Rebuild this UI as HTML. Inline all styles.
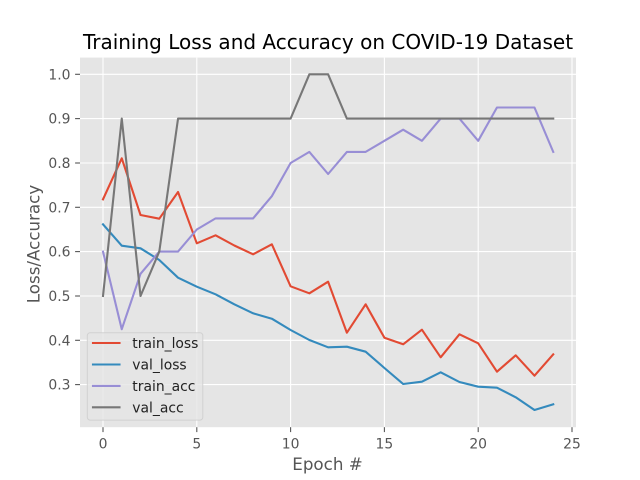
<!DOCTYPE html>
<html>
<head>
<meta charset="utf-8">
<style>
  html, body { margin: 0; padding: 0; background: #ffffff; }
  svg { display: block; }
  text { font-family: "DejaVu Sans", "Liberation Sans", sans-serif; }
</style>
</head>
<body>
<svg width="640" height="480" viewBox="0 0 640 480" xmlns="http://www.w3.org/2000/svg">
  <rect x="0" y="0" width="640" height="480" fill="#ffffff"/>
  <!-- axes background -->
  <rect x="80" y="57.6" width="496" height="369.6" fill="#E5E5E5"/>
  <!-- grid -->
  <g stroke="#ffffff" stroke-width="1.1" fill="none">
    <line x1="103.0" y1="57.6" x2="103.0" y2="427.2"/>
    <line x1="196.8" y1="57.6" x2="196.8" y2="427.2"/>
    <line x1="290.6" y1="57.6" x2="290.6" y2="427.2"/>
    <line x1="384.4" y1="57.6" x2="384.4" y2="427.2"/>
    <line x1="478.2" y1="57.6" x2="478.2" y2="427.2"/>
    <line x1="572.0" y1="57.6" x2="572.0" y2="427.2"/>
    <line x1="80" y1="74.3" x2="576" y2="74.3"/>
    <line x1="80" y1="118.6" x2="576" y2="118.6"/>
    <line x1="80" y1="163.0" x2="576" y2="163.0"/>
    <line x1="80" y1="207.3" x2="576" y2="207.3"/>
    <line x1="80" y1="251.6" x2="576" y2="251.6"/>
    <line x1="80" y1="296.0" x2="576" y2="296.0"/>
    <line x1="80" y1="340.3" x2="576" y2="340.3"/>
    <line x1="80" y1="384.6" x2="576" y2="384.6"/>
  </g>
  <!-- ticks -->
  <g stroke="#555555" stroke-width="1.1">
    <line x1="103.0" y1="427.2" x2="103.0" y2="432.1"/>
    <line x1="196.8" y1="427.2" x2="196.8" y2="432.1"/>
    <line x1="290.6" y1="427.2" x2="290.6" y2="432.1"/>
    <line x1="384.4" y1="427.2" x2="384.4" y2="432.1"/>
    <line x1="478.2" y1="427.2" x2="478.2" y2="432.1"/>
    <line x1="572.0" y1="427.2" x2="572.0" y2="432.1"/>
    <line x1="75.1" y1="74.3" x2="80" y2="74.3"/>
    <line x1="75.1" y1="118.6" x2="80" y2="118.6"/>
    <line x1="75.1" y1="163.0" x2="80" y2="163.0"/>
    <line x1="75.1" y1="207.3" x2="80" y2="207.3"/>
    <line x1="75.1" y1="251.6" x2="80" y2="251.6"/>
    <line x1="75.1" y1="296.0" x2="80" y2="296.0"/>
    <line x1="75.1" y1="340.3" x2="80" y2="340.3"/>
    <line x1="75.1" y1="384.6" x2="80" y2="384.6"/>
  </g>
  <!-- tick labels -->
  <g fill="#555555" font-size="13.9px">
    <g text-anchor="middle">
      <text x="103.0" y="448.5">0</text>
      <text x="196.8" y="448.5">5</text>
      <text x="290.6" y="448.5">10</text>
      <text x="384.4" y="448.5">15</text>
      <text x="478.2" y="448.5">20</text>
      <text x="572.0" y="448.5">25</text>
    </g>
    <g text-anchor="end">
      <text x="70.5" y="79.4">1.0</text>
      <text x="70.5" y="123.7">0.9</text>
      <text x="70.5" y="168.1">0.8</text>
      <text x="70.5" y="212.4">0.7</text>
      <text x="70.5" y="256.7">0.6</text>
      <text x="70.5" y="301.1">0.5</text>
      <text x="70.5" y="345.4">0.4</text>
      <text x="70.5" y="389.7">0.3</text>
    </g>
  </g>
  <!-- series -->
  <g fill="none" stroke-width="2.1" stroke-linejoin="round" stroke-linecap="square">
    <polyline stroke="#E24A33" points="103.0,199.3 121.76,158.3 140.52,215 159.28,218.7 178.04,192 196.8,243.3 215.56,235.3 234.32,245.5 253.08,254.3 271.84,244.3 290.6,286.3 309.36,293.3 328.12,281.7 346.88,332.7 365.64,304.3 384.4,337.7 403.16,344.3 421.92,329.7 440.68,357.3 459.44,334.3 478.2,343.3 496.96,371.7 515.72,355.3 534.48,375.7 553.24,354.3"/>
    <polyline stroke="#348ABD" points="103.0,224.3 121.76,245.7 140.52,248.3 159.28,260 178.04,277.7 196.8,286.7 215.56,294.3 234.32,304.3 253.08,313.3 271.84,318.7 290.6,330 309.36,340 328.12,347.3 346.88,346.7 365.64,351.7 384.4,368 403.16,384 421.92,381.7 440.68,372.3 459.44,382 478.2,386.7 496.96,387.7 515.72,397.3 534.48,410 553.24,404.3"/>
    <polyline stroke="#988ED5" points="103.0,251.6 121.76,329.2 140.52,273.8 159.28,251.6 178.04,251.6 196.8,229.5 215.56,218.4 234.32,218.4 253.08,218.4 271.84,196.2 290.6,163.0 309.36,151.9 328.12,174.0 346.88,151.9 365.64,151.9 384.4,140.8 403.16,129.7 421.92,140.8 440.68,118.6 459.44,118.6 478.2,140.8 496.96,107.5 515.72,107.5 534.48,107.5 553.24,151.9"/>
    <polyline stroke="#777777" points="103.0,296.0 121.76,118.6 140.52,296.0 159.28,251.6 178.04,118.6 196.8,118.6 215.56,118.6 234.32,118.6 253.08,118.6 271.84,118.6 290.6,118.6 309.36,74.3 328.12,74.3 346.88,118.6 365.64,118.6 384.4,118.6 403.16,118.6 421.92,118.6 440.68,118.6 459.44,118.6 478.2,118.6 496.96,118.6 515.72,118.6 534.48,118.6 553.24,118.6"/>
  </g>
  <!-- legend -->
  <rect x="87.3" y="332.8" width="115.5" height="87.3" rx="2.8" ry="2.8" fill="#E5E5E5" fill-opacity="0.8" stroke="#CCCCCC" stroke-opacity="0.8" stroke-width="1"/>
  <g stroke-width="2.1" stroke-linecap="square">
    <line x1="93" y1="343" x2="119.5" y2="343" stroke="#E24A33"/>
    <line x1="93" y1="364.5" x2="119.5" y2="364.5" stroke="#348ABD"/>
    <line x1="93" y1="385.9" x2="119.5" y2="385.9" stroke="#988ED5"/>
    <line x1="93" y1="407.3" x2="119.5" y2="407.3" stroke="#777777"/>
  </g>
  <g fill="#222222" font-size="13.9px">
    <text x="132.3" y="348">train_loss</text>
    <text x="132.3" y="369.5">val_loss</text>
    <text x="132.3" y="390.9">train_acc</text>
    <text x="132.3" y="412.3">val_acc</text>
  </g>
  <!-- title and labels -->
  <text x="328" y="49" text-anchor="middle" font-size="20px" fill="#000000">Training Loss and Accuracy on COVID-19 Dataset</text>
  <text x="327.5" y="470" text-anchor="middle" font-size="16.7px" fill="#555555">Epoch #</text>
  <text transform="translate(39.5,244) rotate(-90)" x="0" y="0" text-anchor="middle" font-size="16.7px" fill="#555555">Loss/Accuracy</text>
</svg>
</body>
</html>
